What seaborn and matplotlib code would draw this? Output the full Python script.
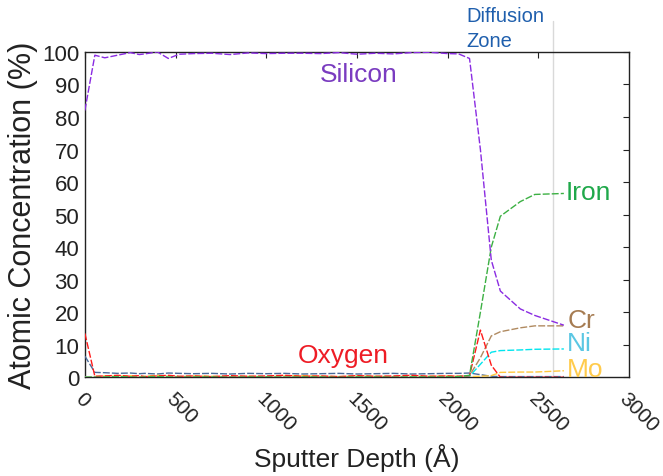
import numpy as np
import pandas as pd
import matplotlib
matplotlib.use("Agg")
import matplotlib.pyplot as plt
import seaborn as sns

# Sputter depth (Angstrom) at each measurement
depth = [0, 55, 110, 180, 250, 300, 330, 400, 460, 520, 600, 700, 800, 900,
         1000, 1100, 1200, 1300, 1400, 1500, 1600, 1700, 1800, 1900, 2000,
         2060, 2120, 2180, 2240, 2290, 2400, 2480, 2640]

# Atomic concentration (%) per element
silicon = [82, 99, 98.2, 99, 99.8, 99.2, 99.4, 100, 98, 99.3, 99.5, 99.6, 99.2, 99.7,
           99.5, 99.6, 99.6, 99.5, 99.8, 99.3, 99.6, 99.4, 99.8, 99.9, 99.5,
           99.4, 98, 70, 36, 26.5, 21, 19, 16]
iron = [0, 0, 0.1, 0.2, 0.1, 0, 0.1, 0.2, 0.1, 0, 0.1, 0.1, 0, 0.1,
        0.1, 0, 0.1, 0.1, 0, 0.1, 0.1, 0, 0.1, 0.1, 0.1,
        0.2, 0.6, 20, 40, 49.5, 54, 56.2, 56.5]
chromium = [0, 0, 0, 0.1, 0, 0, 0.1, 0, 0, 0.1, 0, 0, 0.1, 0,
            0, 0.1, 0, 0, 0.1, 0, 0, 0.1, 0, 0, 0.1,
            0.1, 0.5, 6, 12.7, 14, 15.2, 15.8, 15.8]
nickel = [0, 0, 0, 0, 0, 0, 0, 0, 0, 0, 0, 0, 0, 0,
          0, 0, 0, 0, 0, 0, 0, 0, 0, 0, 0,
          0, 0.3, 4, 7.7, 8.2, 8.4, 8.6, 8.7]
molybdenum = [0, 0.2, 0.4, 0.3, 0.5, 0.2, 0.3, 0.6, 0.3, 0.2, 0.4, 0.3, 0.2, 0.3,
              0.2, 0.4, 0.5, 0.3, 0.2, 0.4, 0.3, 0.2, 0.3, 0.3, 0.4,
              0.3, 0.2, 0.3, 0.5, 1.5, 1.6, 1.6, 2]
oxygen = [13.5, 0.3, 0.4, 0.6, 0.3, 0.5, 0.2, 0.4, 0.6, 0.3, 0.4, 0.2, 0.5, 0.3,
          0.4, 0.6, 0.3, 0.4, 0.2, 0.5, 0.3, 0.4, 0.6, 0.3, 0.4,
          0.3, 0.5, 14.5, 3.7, 0, 0, 0, 0]
other = [6.5, 1.5, 1.4, 1.2, 1.3, 1.1, 1.2, 1.0, 1.3, 1.2, 1.1, 1.2, 1.0, 1.2,
         1.1, 1.2, 1.0, 1.1, 1.2, 1.0, 1.1, 1.2, 1.0, 1.1, 1.2,
         1.2, 1.3, 0.8, 0.3, 0.2, 0.2, 0.2, 0.2]

diffusion_depth = 2580
xticks = [0, 500, 1000, 1500, 2000, 2500, 3000]
yticks = [0, 10, 20, 30, 40, 50, 60, 70, 80, 90, 100]

series = [
    ("Other", other, "#4a6a9a"),
    ("Molybdenum", molybdenum, "#ffc83d"),
    ("Nickel", nickel, "#00e5ee"),
    ("Chromium", chromium, "#b08a60"),
    ("Oxygen", oxygen, "#ff1a1a"),
    ("Iron", iron, "#3cb043"),
    ("Silicon", silicon, "#8a2be2"),
]

sns.set_style("white")
plt.rcParams['font.family'] = ['Liberation Sans', 'DejaVu Sans']

fig = plt.figure(figsize=(6.63, 4.77), dpi=100)
ax = fig.add_axes([0.128, 0.207, 0.821, 0.682])

for name, vals, col in series:
    df = pd.DataFrame({"depth": depth, "conc": vals})
    sns.lineplot(data=df, x="depth", y="conc", ax=ax, color=col, lw=1.0,
                 linestyle=(0, (5, 1.5)), zorder=3)

# Diffusion zone marker
ax.plot([diffusion_depth, diffusion_depth], [0, 109.6], color="#d9d9d9", lw=1.0,
        clip_on=False, zorder=1)
ax.text(2100, 111.3, "Diffusion", color="#1f5fad", fontsize=14.5, ha="left", va="center",
        clip_on=False)
ax.text(2100, 103.6, "Zone", color="#1f5fad", fontsize=14.5, ha="left", va="center",
        clip_on=False)

# Element labels
ax.text(1511, 93.2, "Silicon", color="#7a3cc0", fontsize=19, ha="center", va="center")
ax.text(2647, 56.8, "Iron", color="#1fa84a", fontsize=19, ha="left", va="center", clip_on=False)
ax.text(2658, 17.6, "Cr", color="#a67c52", fontsize=19, ha="left", va="center", clip_on=False)
ax.text(2658, 10.5, "Ni", color="#5bc7e3", fontsize=19, ha="left", va="center", clip_on=False)
ax.text(2658, 2.6, "Mo", color="#ffcb4c", fontsize=19, ha="left", va="center", clip_on=False)
ax.text(1423, 6.8, "Oxygen", color="#ee1c25", fontsize=19, ha="center", va="center")

ax.set_xlim(0, 3000)
ax.set_ylim(0, 100)
ax.set_xticks(xticks)
ax.set_yticks(yticks)
ax.set_xticklabels([str(t) for t in xticks], rotation=-45, ha="left", va="top",
                   rotation_mode="anchor", fontsize=15)
ax.set_yticklabels([str(t) for t in yticks], fontsize=16)
ax.tick_params(direction="in", length=4, width=0.8, top=True, right=True,
               colors="#222222", pad=4)
ax.tick_params(axis="x", pad=8)
for sp in ax.spines.values():
    sp.set_color("#222222")
    sp.set_linewidth(1.0)

ax.set_xlabel("Sputter Depth (Å)", fontsize=19, color="#222222", labelpad=6)
ax.set_ylabel("Atomic Concentration (%)", fontsize=22, color="#222222", labelpad=3)

fig.savefig("out.png", dpi=100)
